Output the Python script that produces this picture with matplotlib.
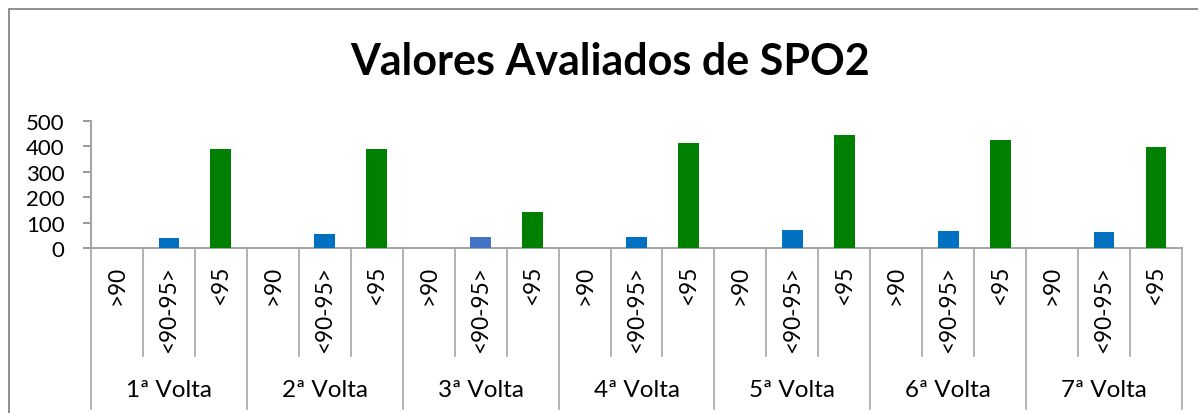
import matplotlib
matplotlib.use("Agg")
import matplotlib.pyplot as plt
import matplotlib.transforms as mtransforms
from matplotlib.patches import Rectangle

plt.rcParams["font.family"] = ["Lato", "DejaVu Sans"]

voltas = ["1ª Volta", "2ª Volta", "3ª Volta", "4ª Volta", "5ª Volta", "6ª Volta", "7ª Volta"]
faixas = [">90", "<90-95>", "<95"]
val_90 = [1, 0, 0, 0, 0, 1, 0]
val_90_95 = [40, 55, 43, 43, 71, 67, 63]
val_95 = [390, 390, 142, 415, 445, 425, 398]

cor_faixa = ["#C0504D", "#0070C0", "#008000"]

W, H = 1198, 414
fig = plt.figure(figsize=(W / 100, H / 100), dpi=100)
ax = fig.add_axes([91 / W, 1 - 249 / H, (1182 - 91) / W, (249 - 122) / H])

series = [val_90, val_90_95, val_95]
for g in range(len(voltas)):
    for k in range(3):
        x = g * 3 + k + 0.5
        cor = cor_faixa[k]
        if g == 2 and k == 1:
            cor = "#4472C4"
        ax.bar(x, series[k][g], width=0.4, color=cor, zorder=3)

n = len(voltas) * 3
ax.set_xlim(0, n)
ax.set_ylim(0, 500)
ax.set_yticks([0, 100, 200, 300, 400, 500])
ax.tick_params(axis="y", labelsize=16, length=6, width=1.2, color="#868686", pad=13)
ax.set_xticks([])
for s in ["top", "right"]:
    ax.spines[s].set_visible(False)
for s in ["left", "bottom"]:
    ax.spines[s].set_color("#A6A6A6")
    ax.spines[s].set_linewidth(1.5)

trans = mtransforms.blended_transform_factory(ax.transData, fig.transFigure)
y_axis = 1 - 249 / H
y_inner = 1 - 357 / H
y_outer = 1 - 410 / H
for i in range(n + 1):
    y_end = y_outer if i % 3 == 0 else y_inner
    ax.plot([i, i], [y_axis, y_end], color="#A6A6A6", lw=1.2,
            transform=trans, clip_on=False)

for g, volta in enumerate(voltas):
    for k, f in enumerate(faixas):
        ax.text(g * 3 + k + 0.5, 1 - 266 / H, f, rotation=90, ha="center", va="top",
                fontsize=16.3, transform=trans)
    ax.text(g * 3 + 1.5, 1 - 391 / H, volta, ha="center", va="center",
            fontsize=17.5, transform=trans)

fig.text(610 / W, 1 - 62 / H, "Valores Avaliados de SPO2", ha="center", va="center",
         fontsize=31, fontweight="bold")

fig.patches.append(Rectangle((9 / W, -0.1), 1.2, 1 - 10 / H + 0.1, transform=fig.transFigure,
                             fill=False, edgecolor="#868686", lw=1.3))

fig.savefig("out.png", dpi=100)
